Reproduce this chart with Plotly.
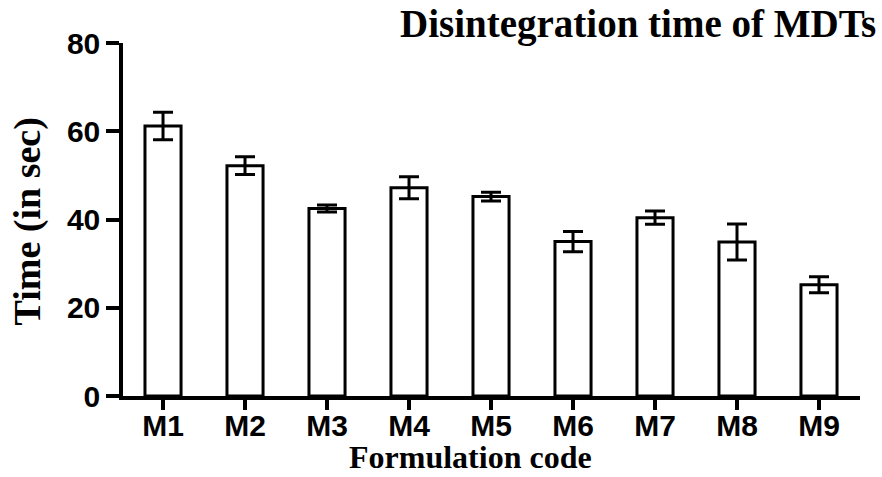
import plotly.graph_objects as go

# Disintegration time of mouth-dissolving tablet formulations (mean ± SD)
formulations = ["M1", "M2", "M3", "M4", "M5", "M6", "M7", "M8", "M9"]
mean_time = [61.2, 52.2, 42.5, 47.2, 45.2, 35.0, 40.4, 34.9, 25.2]
sd_time = [3.1, 2.0, 0.8, 2.5, 1.0, 2.3, 1.5, 4.1, 1.8]
y_ticks = [0, 20, 40, 60, 80]

sans_bold = dict(family="Liberation Sans, Arial, sans-serif", size=30, color="black", weight="bold")
serif_bold = dict(family="Liberation Serif, Times New Roman, serif", color="black", weight="bold")

fig = go.Figure(
    go.Bar(
        x=formulations,
        y=mean_time,
        width=0.44,
        marker=dict(color="white", line=dict(color="black", width=3)),
        error_y=dict(type="data", array=sd_time, symmetric=True,
                     color="black", thickness=3, width=10),
    )
)

fig.update_layout(
    width=882,
    height=477,
    margin=dict(l=123, r=22, t=43, b=81),
    plot_bgcolor="white",
    paper_bgcolor="white",
    showlegend=False,
    xaxis=dict(
        type="category",
        range=[-0.488, 8.5],
        showline=True, linecolor="black", linewidth=3.5,
        ticks="outside", ticklen=10, tickwidth=3.5, tickcolor="black",
        tickfont=sans_bold, ticklabelstandoff=-10,
        showgrid=False, zeroline=False,
    ),
    yaxis=dict(
        range=[0, 80],
        tickvals=y_ticks,
        showline=True, linecolor="black", linewidth=3.5,
        ticks="outside", ticklen=13, tickwidth=3.5, tickcolor="black",
        tickfont=sans_bold,
        showgrid=False, zeroline=False,
    ),
    annotations=[
        dict(text="Disintegration time of MDTs", xref="paper", yref="paper",
             x=1.0244, y=1.054, xanchor="right", yanchor="middle",
             showarrow=False, font=dict(serif_bold, size=39)),
        dict(text="Formulation code", xref="paper", yref="paper",
             x=0.472, y=-0.229, xanchor="center", yanchor="bottom",
             showarrow=False, font=dict(serif_bold, size=32)),
        dict(text="Time (in sec)", xref="paper", yref="paper",
             x=-0.130, y=0.495, xanchor="center", yanchor="middle",
             textangle=-90, showarrow=False, font=dict(serif_bold, size=38)),
    ],
)

fig.write_html("out.html")
